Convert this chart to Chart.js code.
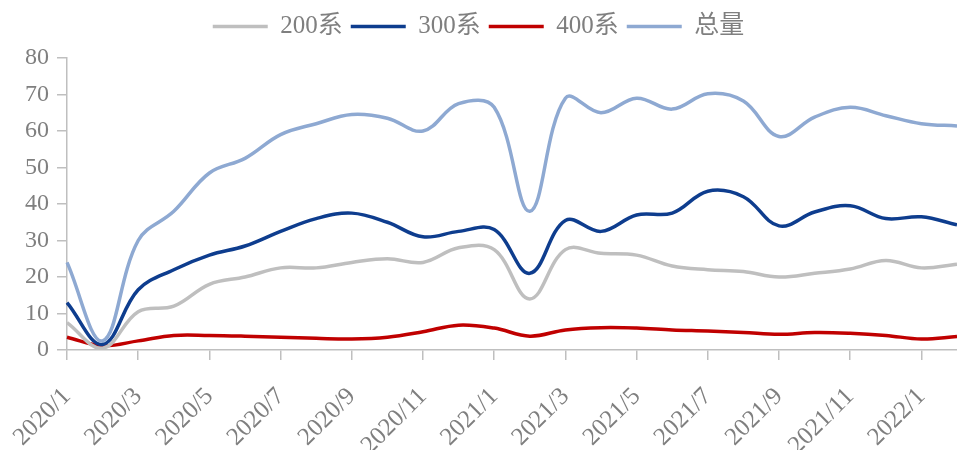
<!DOCTYPE html>
<html>
<head>
<meta charset="utf-8">
<script src="https://cdn.jsdelivr.net/npm/chart.js@4/dist/chart.umd.min.js"></script>
<style>
  html, body { margin: 0; padding: 0; background: #fff; }
  #wrap { width: 957px; height: 450px; position: relative; }
</style>
</head>
<body>
<div id="wrap"><canvas id="c"></canvas></div>
<script>
const categories = ["2020/1","2020/2","2020/3","2020/4","2020/5","2020/6","2020/7","2020/8","2020/9","2020/10","2020/11","2020/12",
  "2021/1","2021/2","2021/3","2021/4","2021/5","2021/6","2021/7","2021/8","2021/9","2021/10","2021/11","2021/12",
  "2022/1","2022/2"];
const s200 = [7.5, 0.5, 10.5, 12, 18, 20, 22.5, 22.5, 24, 25, 24, 28, 27.5, 14, 27.5, 26.5, 26, 23, 22, 21.5, 20, 21, 22.2, 24.5, 22.5, 23.5];
const s300 = [13, 1.5, 16.5, 22, 26, 28.5, 32.5, 36, 37.5, 35, 31, 32.5, 33, 21, 35.5, 32.5, 37, 37.5, 43.5, 42, 34, 37.8, 39.5, 36, 36.5, 34.3];
const s400 = [3.5, 1.2, 2.5, 4, 4, 3.8, 3.5, 3.2, 3, 3.5, 5, 6.8, 6, 3.8, 5.5, 6.1, 6, 5.5, 5.2, 4.8, 4.3, 4.8, 4.6, 4, 3, 3.7];
const sTotal = [24, 2.5, 30, 38, 48.5, 52.5, 59, 62, 64.5, 63.5, 60, 67.5, 66.5, 38, 69, 65, 69, 66, 70.2, 68.2, 58.5, 63.8, 66.5, 64.2, 62, 61.4];
const seriesNames = ["200系", "300系", "400系", "总量"];
const yTicks = [0, 10, 20, 30, 40, 50, 60, 70, 80];

const colors = ["#BFBFBF", "#0E3D8E", "#C00000", "#8EA9D2"];
const dataArr = [s200, s300, s400, sTotal];
const FONT = "'Liberation Serif', 'Times New Roman', 'Noto Sans CJK SC', serif";
const TXT = "#7F7F7F";

const legendSpacer = {
  id: 'legendSpacer',
  beforeInit(chart) {
    const lg = chart.legend;
    if (!lg) return;
    const orig = lg.fit;
    lg.fit = function() { orig.call(this); this.height += 9; };
  }
};

new Chart(document.getElementById('c'), {
  type: 'line',
  data: {
    labels: categories,
    datasets: dataArr.map((d, i) => ({
      label: seriesNames[i],
      data: d,
      borderColor: colors[i],
      backgroundColor: colors[i],
      borderWidth: 3.5,
      pointRadius: 0,
      tension: 0.38,
      fill: false
    }))
  },
  plugins: [legendSpacer],
  options: {
    responsive: true,
    maintainAspectRatio: false,
    animation: false,
    layout: { padding: { top: 6, right: 0, left: 0, bottom: 0 } },
    plugins: {
      tooltip: { enabled: false },
      legend: {
        position: 'top',
        labels: {
          usePointStyle: true,
          pointStyle: 'line',
          pointStyleWidth: 55,
          padding: 8,
          color: TXT,
          font: { family: FONT, size: 25 }
        }
      }
    },
    scales: {
      x: {
        offset: false,
        afterFit: (s) => { s.height = 100; s.paddingLeft = 0; s.paddingRight = 0; },
        grid: { drawOnChartArea: false, offset: false, color: '#BFBFBF', lineWidth: 1.5, tickLength: 10 },
        border: { color: '#BFBFBF', width: 1.5 },
        ticks: {
          autoSkip: false,
          maxRotation: 45,
          minRotation: 45,
          padding: 22,
          color: TXT,
          font: { family: FONT, size: 25 },
          callback: function(v, i) { return i % 2 === 0 ? categories[i] : null; }
        }
      },
      y: {
        min: 0,
        max: 80,
        afterFit: (s) => { s.width = 67; s.paddingTop = 0; s.paddingBottom = 0; },
        afterBuildTicks: (s) => { s.ticks = yTicks.map(v => ({ value: v })); },
        grid: { drawOnChartArea: false, color: '#BFBFBF', lineWidth: 1.5, tickLength: 10 },
        border: { color: '#BFBFBF', width: 1.5 },
        ticks: {
          padding: 8,
          color: TXT,
          font: { family: FONT, size: 24 }
        }
      }
    }
  }
});
</script>
</body>
</html>
